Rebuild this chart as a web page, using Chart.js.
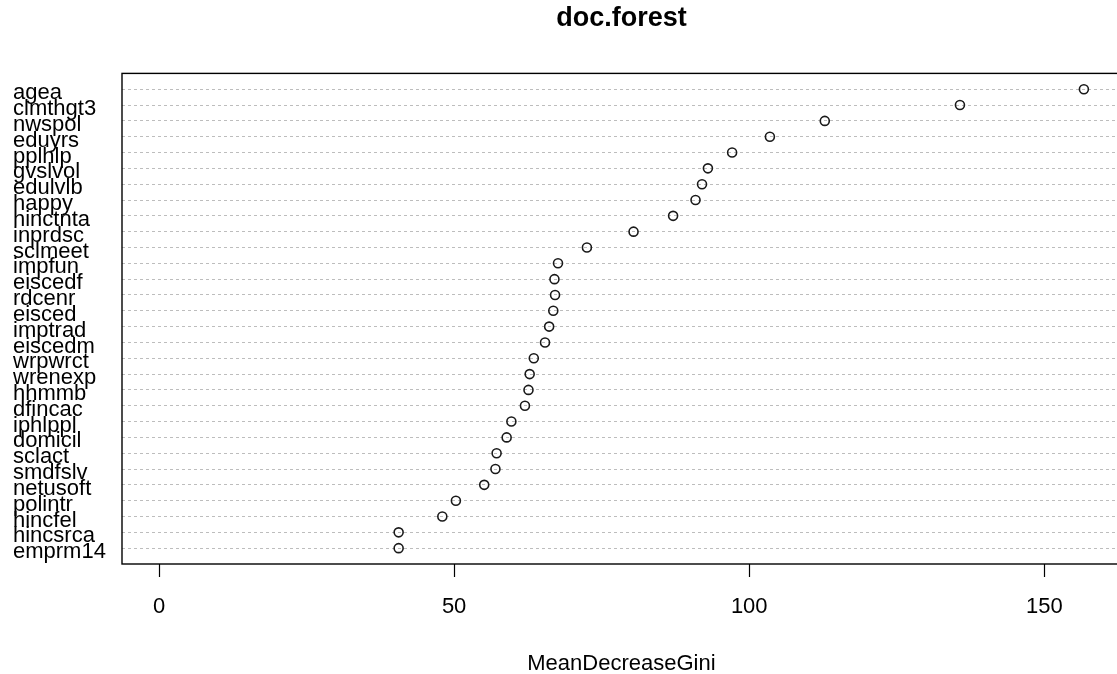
<!DOCTYPE html>
<html>
<head>
<meta charset="utf-8">
<title>doc.forest</title>
<script src="https://cdn.jsdelivr.net/npm/chart.js"></script>
<style>
  html, body { margin: 0; padding: 0; background: #fff; overflow: hidden; }
  #wrap { width: 1117px; height: 674px; overflow: hidden; }
</style>
</head>
<body>
<div id="wrap"><canvas id="gini" width="1127" height="674"></canvas></div>
<script>
// variables, top to bottom as in the plot
const variables = ["agea", "clmthgt3", "nwspol", "eduyrs", "pplhlp", "gvslvol", "edulvlb", "happy",
  "hinctnta", "inprdsc", "sclmeet", "impfun", "eiscedf", "rdcenr", "eisced", "imptrad", "eiscedm",
  "wrpwrct", "wrenexp", "hhmmb", "dfincac", "iphlppl", "domicil", "sclact", "smdfslv", "netusoft",
  "polintr", "hincfel", "hincsrca", "emprm14"];

// MeanDecreaseGini
const giniValues = [156.7, 135.7, 112.8, 103.5, 97.1, 93.0, 92.0, 90.9,
  87.1, 80.4, 72.5, 67.6, 67.0, 67.1, 66.8, 66.1, 65.4,
  63.5, 62.8, 62.6, 62.0, 59.7, 58.9, 57.2, 57.0, 55.1,
  50.3, 48.0, 40.6, 40.6];

const xTicks = [0, 50, 100, 150];

// dotchart puts the first row at the top, rows run 1..n from the bottom
const n = variables.length;
const points = giniValues.map((v, i) => ({ x: v, y: n - i }));

const labelFont = { family: "'Liberation Sans', Arial, sans-serif", size: 22 };

// draw the closed plot box like R does
const boxPlugin = {
  id: "box",
  afterDatasetsDraw(chart) {
    const a = chart.chartArea;
    const ctx = chart.ctx;
    ctx.save();
    ctx.strokeStyle = "#000";
    ctx.lineWidth = 1.4;
    ctx.strokeRect(a.left, a.top, a.right - a.left, a.bottom - a.top);
    ctx.restore();
  }
};

new Chart(document.getElementById("gini"), {
  type: "scatter",
  data: {
    datasets: [{
      data: points,
      pointStyle: "circle",
      pointRadius: 4.5,
      pointHoverRadius: 4.5,
      pointBorderWidth: 1.6,
      pointBorderColor: "#1a1a1a",
      pointBackgroundColor: "rgba(0,0,0,0)"
    }]
  },
  options: {
    responsive: false,
    animation: false,
    layout: { padding: { left: 13, top: 2, right: 2, bottom: 0 } },
    plugins: {
      legend: { display: false },
      tooltip: { enabled: false },
      title: {
        display: true,
        text: "doc.forest",
        fullSize: false,
        color: "#000",
        font: { family: labelFont.family, size: 27, weight: "bold" },
        padding: { top: 0, bottom: 39 }
      }
    },
    scales: {
      x: {
        type: "linear",
        min: -6.27,
        max: 162.97,
        afterBuildTicks(scale) {
          scale.ticks = xTicks.map(v => ({ value: v }));
        },
        afterFit(scale) { scale.height = 110; },
        ticks: { color: "#000", font: labelFont, padding: 17, maxRotation: 0 },
        grid: { drawOnChartArea: false, color: "#000", tickLength: 13, tickWidth: 1.2 },
        border: { display: false },
        title: {
          display: true,
          text: "MeanDecreaseGini",
          color: "#000",
          font: labelFont,
          padding: { top: 30, bottom: -3 }
        }
      },
      y: {
        type: "linear",
        min: 0,
        max: n + 1,
        afterFit(scale) { scale.width = 109; },
        ticks: {
          stepSize: 1,
          autoSkip: false,
          crossAlign: "far",
          labelOffset: 4,
          color: "#000",
          font: labelFont,
          callback: v => (v >= 1 && v <= n) ? variables[n - v] : ""
        },
        grid: {
          drawTicks: false,
          lineWidth: 1,
          color: ctx => (ctx.tick && ctx.tick.value >= 1 && ctx.tick.value <= n) ? "#bdbdbd" : "rgba(0,0,0,0)"
        },
        border: { display: false, dash: [3, 3] }
      }
    }
  },
  plugins: [boxPlugin]
});
</script>
</body>
</html>
